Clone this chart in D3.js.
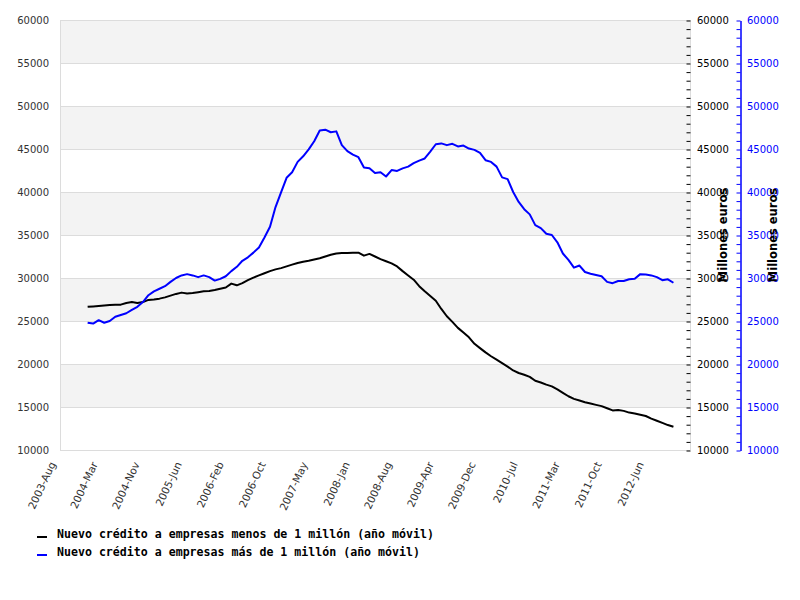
<!DOCTYPE html>
<html>
<head>
<meta charset="utf-8">
<title>Nuevo crédito a empresas</title>
<script src="https://cdnjs.cloudflare.com/ajax/libs/d3/7.8.5/d3.min.js"></script>
<style>
  body { margin: 0; background: #fff; }
  svg { display: block; }
</style>
</head>
<body>
<div id="chart"></div>
<script>
// monthly categories, index 0 = 2003-Aug, axis runs to index 114
var monthCount = 114;
var dataStart = 5; // first value is 2004-Jan

var xTickLabels = ["2003-Aug", "2004-Mar", "2004-Nov", "2005-Jun", "2006-Feb",
  "2006-Oct", "2007-May", "2008-Jan", "2008-Aug", "2009-Apr", "2009-Dec",
  "2010-Jul", "2011-Mar", "2011-Oct", "2012-Jun"];

var yTicks = [10000, 15000, 20000, 25000, 30000, 35000, 40000, 45000, 50000, 55000, 60000];

// Nuevo crédito a empresas menos de 1 millón (año móvil)
var menos = [26650, 26700, 26750, 26800, 26850, 26900, 26900, 27100, 27200, 27100,
  27200, 27450, 27500, 27600, 27750, 27950, 28150, 28300, 28200, 28250,
  28350, 28450, 28500, 28600, 28750, 28900, 29350, 29150, 29400, 29750,
  30050, 30300, 30550, 30800, 31000, 31150, 31350, 31550, 31750, 31900,
  32000, 32150, 32300, 32500, 32700, 32850, 32900, 32900, 32950, 32950,
  32600, 32800, 32500, 32200, 31950, 31700, 31350, 30800, 30300, 29800,
  29050, 28450, 27900, 27350, 26400, 25550, 24900, 24200, 23650, 23100,
  22350, 21850, 21350, 20900, 20500, 20100, 19700, 19250, 18950, 18750,
  18500, 18050, 17850, 17600, 17400, 17050, 16650, 16250, 15950, 15750,
  15550, 15400, 15250, 15100, 14850, 14600, 14650, 14550, 14350, 14250,
  14100, 13950, 13650, 13400, 13150, 12900, 12700];

// Nuevo crédito a empresas más de 1 millón (año móvil)
var mas = [24800, 24700, 25100, 24800, 25000, 25500, 25700, 25900, 26300, 26650,
  27200, 28000, 28450, 28750, 29050, 29550, 30000, 30300, 30450, 30300,
  30100, 30300, 30100, 29700, 29900, 30200, 30800, 31300, 32000, 32400,
  32950, 33550, 34700, 35950, 38250, 39950, 41650, 42300, 43500, 44150,
  44950, 45900, 47150, 47250, 46950, 47050, 45450, 44750, 44350, 44050,
  42850, 42750, 42200, 42300, 41800, 42550, 42450, 42750, 42950, 43350,
  43650, 43900, 44700, 45550, 45650, 45450, 45600, 45300, 45400, 45050,
  44900, 44550, 43700, 43500, 42950, 41700, 41500, 40000, 38850, 38000,
  37400, 36150, 35800, 35150, 35000, 34150, 32850, 32100, 31200, 31450,
  30700, 30500, 30350, 30200, 29550, 29400, 29650, 29650, 29850, 29900,
  30450, 30400, 30300, 30100, 29750, 29850, 29450];

var seriesNames = ["Nuevo crédito a empresas menos de 1 millón (año móvil)",
  "Nuevo crédito a empresas más de 1 millón (año móvil)"];
var seriesColors = ["#000000", "#0000ff"];

var width = 800, height = 600;
var plotLeft = 60, plotRight = 690, plotTop = 20, plotBottom = 450;

var svg = d3.select("#chart").append("svg")
  .attr("width", width)
  .attr("height", height);

var x = d3.scaleLinear().domain([0, monthCount]).range([plotLeft, plotRight]);
var y = d3.scaleLinear().domain([10000, 60000]).range([plotBottom, plotTop]);

// alternating bands, top one grey
var bands = [];
for (var i = 0; i < yTicks.length - 1; i++) {
  if ((yTicks.length - 2 - i) % 2 === 0) bands.push([yTicks[i], yTicks[i + 1]]);
}
svg.append("g").selectAll("rect")
  .data(bands)
  .enter().append("rect")
  .attr("x", plotLeft)
  .attr("width", plotRight - plotLeft)
  .attr("y", function (d) { return y(d[1]); })
  .attr("height", function (d) { return y(d[0]) - y(d[1]); })
  .attr("fill", "#f3f3f3");

// gridlines
svg.append("g").selectAll("line")
  .data(yTicks)
  .enter().append("line")
  .attr("x1", plotLeft).attr("x2", plotRight)
  .attr("y1", function (d) { return Math.round(y(d)) + 0.5; })
  .attr("y2", function (d) { return Math.round(y(d)) + 0.5; })
  .attr("stroke", "#dcdcdc");

// plot frame sides
svg.append("line").attr("x1", plotLeft + 0.5).attr("x2", plotLeft + 0.5)
  .attr("y1", plotTop).attr("y2", plotBottom).attr("stroke", "#dcdcdc");
svg.append("line").attr("x1", plotRight + 0.5).attr("x2", plotRight + 0.5)
  .attr("y1", plotTop).attr("y2", plotBottom).attr("stroke", "#dcdcdc");

// left axis labels
svg.append("g").selectAll("text")
  .data(yTicks)
  .enter().append("text")
  .attr("x", 49)
  .attr("y", function (d) { return y(d) + 4; })
  .attr("text-anchor", "end")
  .attr("font-family", "DejaVu Sans")
  .attr("font-size", "10px")
  .attr("fill", "#333")
  .text(function (d) { return d; });

// first right axis (black), ticks only
var axisR1 = d3.axisLeft(y)
  .ticks(50)
  .tickSize(4)
  .tickFormat("");
var gR1 = svg.append("g")
  .attr("transform", "translate(" + (plotRight + 0.5) + ",0.5)")
  .call(axisR1);
gR1.select(".domain").remove();
gR1.selectAll("line").attr("stroke", "#000");

svg.append("g").selectAll("text")
  .data(yTicks)
  .enter().append("text")
  .attr("x", 697)
  .attr("y", function (d) { return y(d) + 4; })
  .attr("font-family", "DejaVu Sans")
  .attr("font-size", "10px")
  .attr("fill", "#000")
  .text(function (d) { return d; });

// second right axis (blue)
var axisR2 = d3.axisLeft(y)
  .ticks(50)
  .tickSize(4)
  .tickSizeOuter(0)
  .tickFormat("");
var gR2 = svg.append("g")
  .attr("transform", "translate(740.5,0.5)")
  .call(axisR2);
gR2.selectAll("line").attr("stroke", "#0000ff");
gR2.select(".domain").attr("stroke", "#0000ff").attr("stroke-width", 1.5);

svg.append("g").selectAll("text")
  .data(yTicks)
  .enter().append("text")
  .attr("x", 747)
  .attr("y", function (d) { return y(d) + 4; })
  .attr("font-family", "DejaVu Sans")
  .attr("font-size", "10px")
  .attr("fill", "#0000ff")
  .text(function (d) { return d; });

// axis titles
[727, 777].forEach(function (tx) {
  svg.append("text")
    .attr("transform", "translate(" + tx + "," + ((plotTop + plotBottom) / 2) + ") rotate(-90)")
    .attr("text-anchor", "middle")
    .attr("font-family", "DejaVu Sans")
    .attr("font-weight", "bold")
    .attr("font-size", "11.5px")
    .attr("fill", "#000")
    .text("Millones euros");
});

// x labels, evenly spaced over the month axis
var step = monthCount / xTickLabels.length;
svg.append("g").selectAll("text")
  .data(xTickLabels)
  .enter().append("text")
  .attr("transform", function (d, k) {
    return "translate(" + (x(k * step) - 4) + "," + (plotBottom + 14) + ") rotate(-65)";
  })
  .attr("text-anchor", "end")
  .attr("font-family", "DejaVu Sans")
  .attr("font-size", "10.5px")
  .attr("fill", "#333")
  .text(function (d) { return d; });

// lines
var line = d3.line()
  .x(function (d, i) { return x(dataStart + i); })
  .y(function (d) { return y(d); });

[menos, mas].forEach(function (s, k) {
  svg.append("path")
    .datum(s)
    .attr("fill", "none")
    .attr("stroke", seriesColors[k])
    .attr("stroke-width", 2)
    .attr("stroke-linejoin", "round")
    .attr("d", line);
});

// legend
var lg = svg.append("g").attr("transform", "translate(37,534)");
seriesNames.forEach(function (name, k) {
  lg.append("rect")
    .attr("x", 0).attr("y", k * 18 + 2)
    .attr("width", 10).attr("height", 2)
    .attr("fill", seriesColors[k]);
  lg.append("text")
    .attr("x", 20).attr("y", k * 18 + 4)
    .attr("font-family", "DejaVu Sans Mono")
    .attr("font-weight", "bold")
    .attr("font-size", "11.6px")
    .attr("fill", "#000")
    .text(name);
});
</script>
</body>
</html>
